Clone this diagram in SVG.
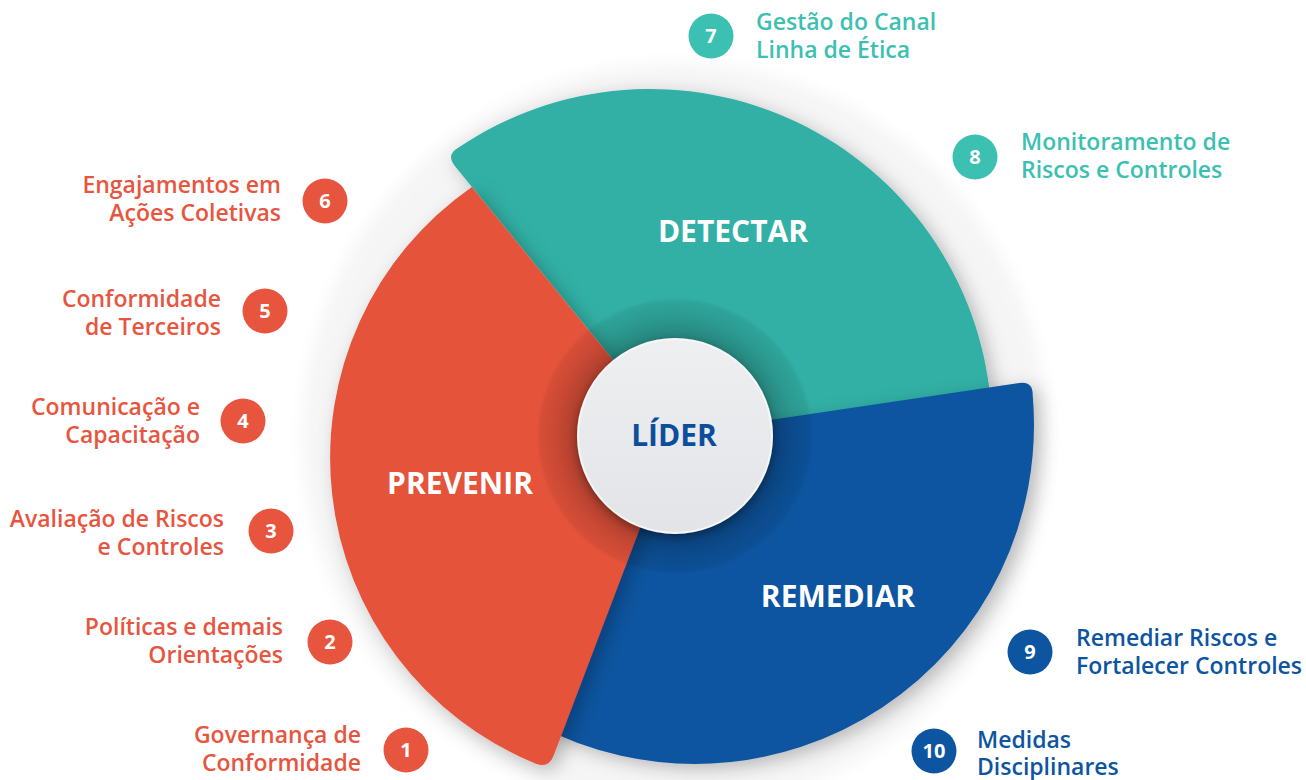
<svg xmlns="http://www.w3.org/2000/svg" width="1306" height="780" viewBox="0 0 1306 780">
<defs>
<style>
.lbl{font-family:"Open Sans","Liberation Sans",sans-serif;font-weight:600;font-size:23px}
.r{fill:#e8553f}
.t{fill:#3cc0b1}
.b{fill:#0d55a0}
.num{font-family:"Open Sans","Liberation Sans",sans-serif;font-weight:700;font-size:20px;fill:#fff;text-anchor:middle}
.big{font-family:"Open Sans","Liberation Sans",sans-serif;font-weight:700;font-size:30px;fill:#fff;text-anchor:middle}
.end{text-anchor:end}
</style>
<filter id="sh" x="-20%" y="-20%" width="140%" height="140%">
<feDropShadow dx="6" dy="5" stdDeviation="9" flood-color="#000" flood-opacity="0.25"/>
</filter>
<filter id="sh2" x="-30%" y="-30%" width="160%" height="160%">
<feDropShadow dx="0" dy="3" stdDeviation="5" flood-color="#000" flood-opacity="0.35"/>
</filter>
<filter id="blur" x="-10%" y="-10%" width="120%" height="120%">
<feGaussianBlur stdDeviation="8"/>
</filter>
<radialGradient id="ring" cx="675" cy="436" r="140" gradientUnits="userSpaceOnUse">
<stop offset="0.66" stop-color="#000" stop-opacity="0.28"/>
<stop offset="0.86" stop-color="#000" stop-opacity="0.12"/>
<stop offset="0.96" stop-color="#000" stop-opacity="0.07"/>
<stop offset="0.99" stop-color="#000" stop-opacity="0"/>
</radialGradient>
<linearGradient id="core" x1="0" y1="0" x2="0" y2="1">
<stop offset="0" stop-color="#eeeff1"/>
<stop offset="1" stop-color="#e3e4e7"/>
</linearGradient>
</defs>
<rect width="1306" height="780" fill="#ffffff"/>
<circle cx="675" cy="436" r="372" fill="#f5f5f6" filter="url(#blur)"/>

<g id="detectar">
<path d="M675,436 L454.8,165.9 Q446,155 457.8,148.1 A342,342 0 0 1 990.6,400 Z" fill="#33b0a5" filter="url(#sh)"/>
<text class="big" x="733" y="242">DETECTAR</text>
</g>
<g id="remediar">
<path d="M675,434 L1019.2,383.1 Q1033,381 1032.7,395.2 A339,339 0 0 1 535.9,724.3 Z" fill="#0c55a0" filter="url(#sh)"/>
<text class="big" x="838" y="607">REMEDIAR</text>
</g>
<g id="prevenir">
<path d="M675,436 L553.7,755.6 Q548.7,768.7 535.9,763.7 A330,330 0 0 1 471.9,186.9 Z" fill="#e5533b" filter="url(#sh)"/>
<text class="big" x="460" y="494">PREVENIR</text>
</g>

<circle cx="675" cy="436" r="140" fill="url(#ring)"/>

<g id="lider">
<circle cx="675" cy="436" r="97" fill="url(#core)" stroke="#f7f7f8" stroke-width="2" filter="url(#sh2)"/>
<text class="big" x="674" y="446" style="fill:#0b4f9c">LÍDER</text>
</g>

<g id="connectors"></g>

<g id="item1">
<circle cx="406" cy="750" r="22.5" fill="#e8553f"/>
<text class="num" x="406" y="757">1</text>
<text class="lbl r end" x="361" y="743">Governança de</text>
<text class="lbl r end" x="361" y="771">Conformidade</text>
</g>
<g id="item2">
<circle cx="330" cy="642" r="22.5" fill="#e8553f"/>
<text class="num" x="330" y="649">2</text>
<text class="lbl r end" x="283" y="635">Políticas e demais</text>
<text class="lbl r end" x="283" y="663">Orientações</text>
</g>
<g id="item3">
<circle cx="271" cy="531" r="22.5" fill="#e8553f"/>
<text class="num" x="271" y="538">3</text>
<text class="lbl r end" x="224" y="527">Avaliação de Riscos</text>
<text class="lbl r end" x="224" y="555">e Controles</text>
</g>
<g id="item4">
<circle cx="243" cy="421" r="22.5" fill="#e8553f"/>
<text class="num" x="243" y="428">4</text>
<text class="lbl r end" x="200" y="415">Comunicação e</text>
<text class="lbl r end" x="200" y="443">Capacitação</text>
</g>
<g id="item5">
<circle cx="265" cy="311" r="22.5" fill="#e8553f"/>
<text class="num" x="265" y="318">5</text>
<text class="lbl r end" x="221" y="307">Conformidade</text>
<text class="lbl r end" x="221" y="335">de Terceiros</text>
</g>
<g id="item6">
<circle cx="325" cy="201" r="22.5" fill="#e8553f"/>
<text class="num" x="325" y="208">6</text>
<text class="lbl r end" x="281" y="193">Engajamentos em</text>
<text class="lbl r end" x="281" y="221">Ações Coletivas</text>
</g>
<g id="item7">
<circle cx="711" cy="36" r="22.5" fill="#3cc0b1"/>
<text class="num" x="711" y="43">7</text>
<text class="lbl t" x="756" y="30">Gestão do Canal</text>
<text class="lbl t" x="756" y="58">Linha de Ética</text>
</g>
<g id="item8">
<circle cx="975" cy="157" r="22.5" fill="#3cc0b1"/>
<text class="num" x="975" y="164">8</text>
<text class="lbl t" x="1021" y="150">Monitoramento de</text>
<text class="lbl t" x="1021" y="178">Riscos e Controles</text>
</g>
<g id="item9">
<circle cx="1030" cy="652" r="22.5" fill="#0d55a0"/>
<text class="num" x="1030" y="659">9</text>
<text class="lbl b" x="1076" y="646">Remediar Riscos e</text>
<text class="lbl b" x="1076" y="674">Fortalecer Controles</text>
</g>
<g id="item10">
<circle cx="934" cy="751" r="22.5" fill="#0d55a0"/>
<text class="num" x="934" y="758">10</text>
<text class="lbl b" x="977" y="748">Medidas</text>
<text class="lbl b" x="977" y="775">Disciplinares</text>
</g>
</svg>
